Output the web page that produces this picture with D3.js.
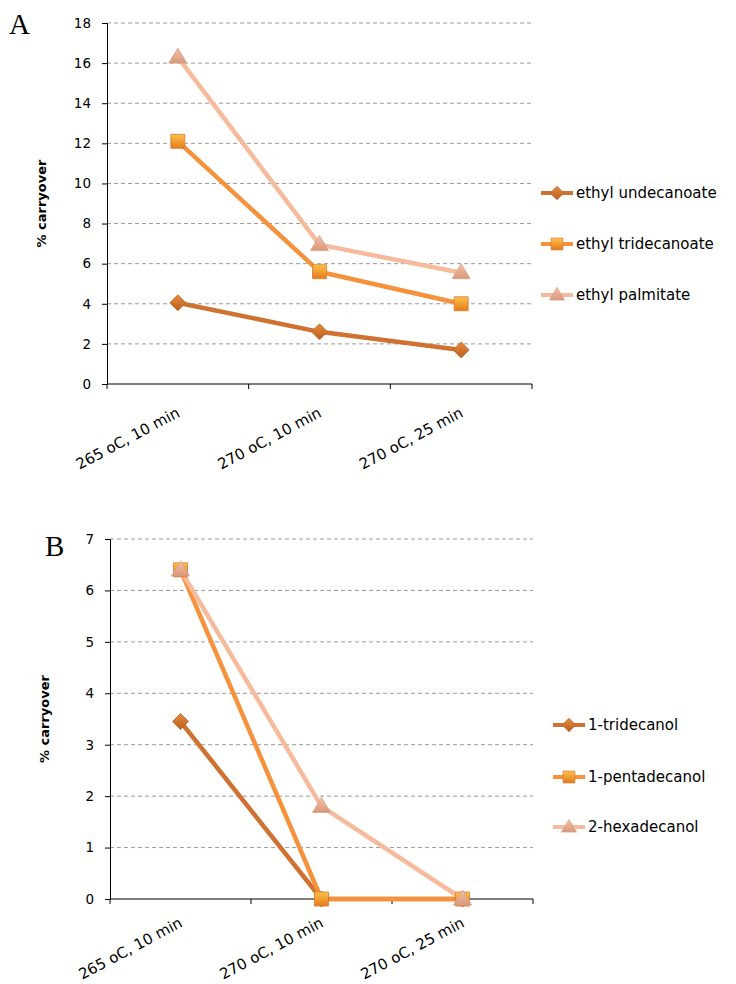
<!DOCTYPE html>
<html>
<head>
<meta charset="utf-8">
<script src="https://cdn.jsdelivr.net/npm/d3@7"></script>
<style>
  body { margin: 0; background: #fff; }
  svg { display: block; }
</style>
</head>
<body>
<svg id="chart"></svg>
<script>
/* données */
const categories = ['265 oC, 10 min', '270 oC, 10 min', '270 oC, 25 min']

const namesA = ['ethyl undecanoate', 'ethyl tridecanoate', 'ethyl palmitate']
const undecanoate = [4.05, 2.6, 1.7]
const tridecanoate = [12.1, 5.6, 4.0]
const palmitate = [16.3, 6.95, 5.55]
const ticksA = [0, 2, 4, 6, 8, 10, 12, 14, 16, 18]

const namesB = ['1-tridecanol', '1-pentadecanol', '2-hexadecanol']
const tridecanol = [3.45, 0, 0]
const pentadecanol = [6.4, 0, 0]
const hexadecanol = [6.4, 1.8, 0]
const ticksB = [0, 1, 2, 3, 4, 5, 6, 7]

const width = 736, height = 984
const colors = ['#cf7231', '#f7923c', '#f6bb9c']
const markers = ['diamond', 'square', 'triangle']
const comic = '"Comic Sans MS", "DejaVu Sans", sans-serif'
const sans = 'Verdana, "DejaVu Sans", sans-serif'

const svg = d3.select('#chart').attr('width', width).attr('height', height)

/* dégradés des marqueurs */
const defs = svg.append('defs')
const grads = [['#e98a3e', '#b8601e'], ['#ffc04a', '#e47a1c'], ['#f5c2a6', '#d8977a']]
grads.forEach((g, i) => {
  const lg = defs.append('linearGradient').attr('id', 'g' + i)
    .attr('x1', 0).attr('y1', 0).attr('x2', 0).attr('y2', 1)
  lg.append('stop').attr('offset', '0%').attr('stop-color', g[0])
  lg.append('stop').attr('offset', '100%').attr('stop-color', g[1])
})

const symbolPath = (type) => {
  if (type === 'diamond') return 'M0,-8L8,0L0,8L-8,0Z'
  if (type === 'square') return 'M-7,-7H7V7H-7Z'
  return 'M0,-9L9,6H-9Z'
}

const drawPanel = (cfg) => {
  const g = svg.append('g')
  const xScale = d3.scaleBand().domain(categories).range([cfg.left, cfg.right])
  const yScale = d3.scaleLinear().domain([0, d3.max(cfg.ticks)]).range([cfg.bottom, cfg.top])

  /* grille */
  g.selectAll('.grid').data(cfg.ticks.filter(d => d > 0)).enter()
    .append('line')
    .attr('x1', cfg.left).attr('x2', cfg.right)
    .attr('y1', d => yScale(d)).attr('y2', d => yScale(d))
    .attr('stroke', '#9a9a9a').attr('stroke-width', 1)
    .attr('stroke-dasharray', '4,3')

  /* axe y */
  const yAxis = d3.axisLeft(yScale).tickValues(cfg.ticks).tickFormat(d3.format('d'))
    .tickSize(5).tickPadding(11)
  const ya = g.append('g').attr('transform', 'translate(' + cfg.left + ',0)').call(yAxis)
  ya.selectAll('text').style('font-family', sans).style('font-size', '13.5px').attr('fill', '#000')
  ya.selectAll('line, path').attr('stroke', '#000')

  /* axe x */
  const xa = g.append('g').attr('transform', 'translate(0,' + cfg.bottom + ')')
  xa.append('line').attr('x1', cfg.left).attr('x2', cfg.right).attr('stroke', '#000')
  const edges = categories.map(c => xScale(c)).concat([cfg.right])
  xa.selectAll('.tk').data(edges).enter().append('line')
    .attr('x1', d => d).attr('x2', d => d).attr('y1', 0).attr('y2', 5).attr('stroke', '#000')
  xa.selectAll('.lbl').data(categories).enter().append('text')
    .attr('transform', c => 'translate(' + (xScale(c) + xScale.bandwidth() / 2 + 3) + ',' + cfg.labelY + ') rotate(-28)')
    .attr('text-anchor', 'end')
    .style('font-family', comic).style('font-size', '15px')
    .text(c => c)

  /* titre axe y */
  g.append('text')
    .attr('transform', 'translate(' + cfg.titleX + ',' + ((cfg.top + cfg.bottom) / 2) + ') rotate(-90)')
    .attr('text-anchor', 'middle')
    .style('font-family', sans).style('font-size', '13px').style('font-weight', 'bold')
    .text('% carryover')

  /* lettre du panneau */
  g.append('text').attr('x', cfg.letterX).attr('y', cfg.letterY)
    .style('font-family', '"Liberation Serif", serif').style('font-size', '29px')
    .text(cfg.letter)

  const line = d3.line()
    .x((d, i) => xScale(categories[i]) + xScale.bandwidth() / 2)
    .y(d => yScale(d))

  /* séries */
  cfg.series.forEach((s, k) => {
    g.append('path').datum(s).attr('d', line)
      .attr('fill', 'none').attr('stroke', colors[k]).attr('stroke-width', 4.5)
      .attr('stroke-linejoin', 'round')
  })
  cfg.series.forEach((s, k) => {
    g.selectAll('.m' + k).data(s).enter().append('path')
      .attr('transform', (d, i) => 'translate(' + (xScale(categories[i]) + xScale.bandwidth() / 2) + ',' + yScale(d) + ')')
      .attr('d', symbolPath(markers[k]))
      .attr('fill', 'url(#g' + k + ')')
      .attr('stroke', d3.color(colors[k]).darker(0.4)).attr('stroke-width', 0.8)
  })

  /* légende */
  cfg.names.forEach((n, k) => {
    const ly = cfg.legendY[k]
    const lg = g.append('g').attr('transform', 'translate(' + cfg.legendX + ',' + ly + ')')
    lg.append('line').attr('x1', 0).attr('x2', 32).attr('stroke', colors[k]).attr('stroke-width', 4)
    lg.append('path').attr('transform', 'translate(16,0) scale(0.85)')
      .attr('d', symbolPath(markers[k])).attr('fill', 'url(#g' + k + ')')
      .attr('stroke', d3.color(colors[k]).darker(0.4)).attr('stroke-width', 0.8)
    lg.append('text').attr('x', 35).attr('y', 5)
      .style('font-family', comic).style('font-size', '15px')
      .text(n)
  })
}

drawPanel({
  left: 107, right: 532, top: 23, bottom: 384,
  ticks: ticksA, series: [undecanoate, tridecanoate, palmitate], names: namesA,
  labelY: 32, titleX: 46, letter: 'A', letterX: 9, letterY: 34,
  legendX: 541, legendY: [193, 244, 295]
})

drawPanel({
  left: 110, right: 533, top: 539, bottom: 899,
  ticks: ticksB, series: [tridecanol, pentadecanol, hexadecanol], names: namesB,
  labelY: 27, titleX: 49, letter: 'B', letterX: 45, letterY: 556,
  legendX: 553, legendY: [725, 777, 827]
})
</script>
</body>
</html>
